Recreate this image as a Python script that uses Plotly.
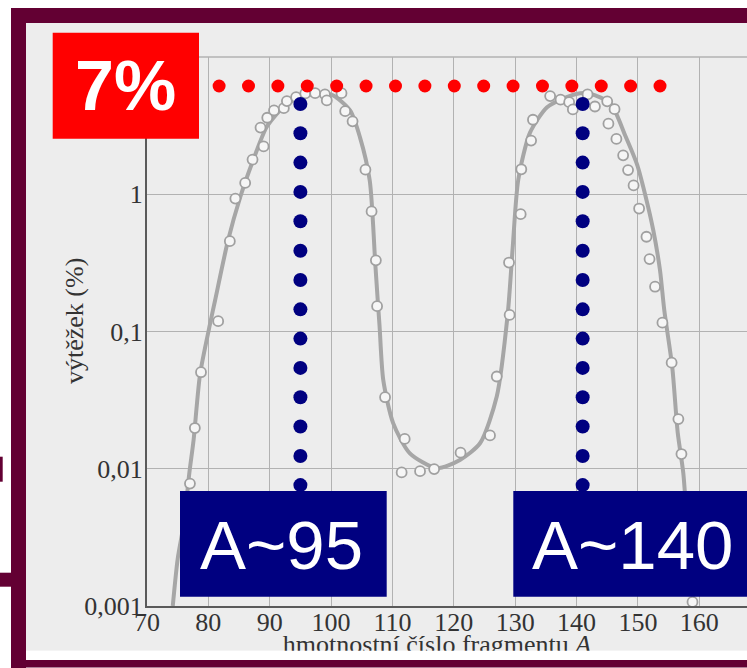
import plotly.graph_objects as go

# ---------------- data ----------------
# fitted yield curve (mass number A, yield %)
curve_A = [74.2, 75.0, 76.0, 76.9, 77.6, 78.65, 80.3, 81.1, 83.2, 85.2, 87.3, 89.5, 92.2,
           94.9, 97.6, 100.3, 103.1, 104.7, 106.3, 107.2, 107.6, 107.9, 108.5, 110.1, 112.8,
           117.2, 121.0, 124.3, 127.0, 128.8, 129.6, 130.5, 132.4, 135.2, 138.4, 140.6,
           142.2, 145.5, 147.9, 149.9, 151.2, 152.5, 153.6, 154.3, 155.6, 156.5, 157.4,
           158.2, 159.0]
curve_Y = [0.001, 0.0022, 0.0040, 0.0093, 0.0163, 0.049, 0.115, 0.169, 0.46, 0.955, 1.77,
           3.09, 4.31, 5.1, 5.4, 5.25, 4.08, 2.61, 1.26, 0.313, 0.17, 0.11, 0.0444, 0.0216,
           0.0130, 0.0101, 0.0116, 0.0154, 0.0336, 0.136, 0.41, 1.27, 2.8, 4.3, 5.1, 5.45,
           5.4, 4.62, 2.70, 1.63, 0.988, 0.549, 0.2805, 0.1434, 0.0551, 0.0182, 0.0093,
           0.00303, 0.00111]

# measured points (open circles)
pts_A = [77.0, 77.8, 78.8, 81.6, 83.5, 84.4, 86.0, 87.2, 88.5, 89.0, 89.6, 90.7, 92.3, 92.8,
         94.3, 95.8, 97.4, 99.0, 99.3, 101.7, 102.3, 103.5, 105.6, 106.6, 107.3, 107.5,
         108.8, 111.5, 112.0, 114.5, 116.8, 121.1, 125.9, 127.0, 129.1, 129.0, 130.9, 131.0,
         132.6, 132.9, 135.7, 137.4, 138.8, 139.4, 141.8, 143.0, 145.0, 145.2, 146.2, 146.5,
         147.6, 148.4, 149.3, 150.2, 151.4, 151.9, 152.8, 154.0, 155.5, 156.6, 157.1, 158.9]
pts_Y = [0.0078, 0.0198, 0.0505, 0.119, 0.455, 0.93, 1.21, 1.79, 3.06, 2.23, 3.61, 4.08, 4.24,
         4.77, 5.1, 5.43, 5.45, 5.34, 4.83, 5.45, 4.03, 3.4, 1.51, 0.75, 0.33, 0.153,
         0.0332, 0.0094, 0.0165, 0.0096, 0.00995, 0.0131, 0.0175, 0.047, 0.132, 0.318, 0.716,
         1.52, 2.46, 3.49, 5.19, 4.89, 4.69, 4.15, 5.34, 4.36, 4.75, 3.27, 4.17, 2.53,
         1.92, 1.5, 1.16, 0.787, 0.49, 0.337, 0.212, 0.116, 0.0593, 0.023, 0.0128, 0.00107]

# red dotted reference line at the peak yield
ref_A = [81.75, 86.54, 91.33, 96.12, 100.91, 105.70, 110.50, 115.29, 120.08, 124.87,
         129.66, 134.45, 139.24, 144.03, 148.82, 153.61]
ref_Y = [6.15] * len(ref_A)

# blue dotted markers of the two peaks
peak_light_A = 95
peak_heavy_A = 141
peak_Y = [4.54, 2.78, 1.70, 1.04, 0.635, 0.388, 0.237, 0.145, 0.0888, 0.0543, 0.0332,
          0.0203, 0.0124, 0.0076]

x_ticks = [70, 80, 90, 100, 110, 120, 130, 140, 150, 160]
x_ticktext = [str(v) for v in x_ticks]
y_ticks = [0.001, 0.01, 0.1, 1]
y_ticktext = ["0,001", "0,01", "0,1", "1"]

label_red = "7%"
label_light = "A~95"
label_heavy = "A~140"
x_title = "hmotnostní číslo fragmentu <i>A</i>"
y_title = "výtěžek (%)"

# ---------------- layout geometry (pixels) ----------------
FW, FH = 747, 668
PL, PR, PT, PB = 147, 747, 57, 606          # plot area edges
X0, X1 = 70, 70 + (PR - PL) / 6.136
Y0, Y1 = -3, 1


def xp(px):
    return px / FW


def yp(py):
    return 1 - py / FH


PAPER = "#ededed"
MAROON = "#630033"
NAVY = "#000080"
GRID = "#b2b2b2"
CURVE = "#a6a6a6"
SERIF = "Liberation Serif"
SANS = "Liberation Sans"
TXT = "#333333"

fig = go.Figure()

fig.add_trace(go.Scatter(x=curve_A, y=curve_Y, mode="lines",
                         line=dict(color=CURVE, width=4, shape="spline", smoothing=0.7),
                         hoverinfo="skip", showlegend=False))
fig.add_trace(go.Scatter(x=pts_A, y=pts_Y, mode="markers",
                         marker=dict(size=10, color="#f6f6f6", line=dict(color="#a0a0a0", width=1.8)),
                         showlegend=False))
fig.add_trace(go.Scatter(x=ref_A, y=ref_Y, mode="markers",
                         marker=dict(size=13, color="#ff0000"), showlegend=False))
fig.add_trace(go.Scatter(x=[peak_light_A] * len(peak_Y), y=peak_Y, mode="markers",
                         marker=dict(size=14, color=NAVY), showlegend=False))
fig.add_trace(go.Scatter(x=[peak_heavy_A] * len(peak_Y), y=peak_Y, mode="markers",
                         marker=dict(size=14, color=NAVY), showlegend=False))
# x-axis title on a hidden full-page pixel axis so the page edge can cut it
fig.add_trace(go.Scatter(x=[437], y=[646], xaxis="x2", yaxis="y2", mode="text",
                         text=[x_title], textposition="middle center",
                         textfont=dict(family=SERIF, size=26, color=TXT),
                         hoverinfo="skip", showlegend=False))


def rect(x0, y0, x1, y1, color, layer="below"):
    return dict(type="rect", xref="paper", yref="paper", x0=xp(x0), x1=xp(x1),
                y0=yp(y1), y1=yp(y0), fillcolor=color, line=dict(width=0), layer=layer)


shapes = [
    rect(26, 23, 760, 650.7, PAPER),
    dict(type="line", xref="paper", yref="paper", x0=xp(PL), x1=xp(760), y0=yp(PT), y1=yp(PT),
         line=dict(color=GRID, width=1.3), layer="below"),
    rect(11, 8, 760, 23, MAROON),
    rect(11, 8, 26, 670, MAROON),
    rect(0, 456.7, 2.7, 481.7, MAROON),
    rect(0, 572.7, 12, 586.7, MAROON),
    rect(52.7, 32.7, 199, 138.7, "#ff0000", "above"),
    rect(180, 491, 386.7, 596.7, NAVY, "above"),
    rect(513.3, 491, 760, 596.7, NAVY, "above"),
    rect(26, 650.7, 760, 660, "#ffffff", "above"),
    rect(11, 660, 760, 667.5, MAROON, "above"),
]

annotations = [
    dict(text=label_red, x=xp(125.8), y=yp(86), xref="paper", yref="paper",
         showarrow=False, xanchor="center", yanchor="middle",
         font=dict(family=SANS, size=70, color="white", weight="bold")),
    dict(text=label_light, x=xp(281.3), y=yp(545), xref="paper", yref="paper",
         showarrow=False, xanchor="center", yanchor="middle",
         font=dict(family=SANS, size=69, color="white")),
    dict(text=label_heavy, x=xp(632.5), y=yp(545), xref="paper", yref="paper",
         showarrow=False, xanchor="center", yanchor="middle",
         font=dict(family=SANS, size=69, color="white")),
    dict(text=y_title, x=xp(74), y=yp(321), xref="paper", yref="paper", textangle=-90,
         showarrow=False, xanchor="center", yanchor="middle",
         font=dict(family=SERIF, size=26, color=TXT)),
]

hidden = dict(domain=[0, 1], visible=False, showticklabels=False, showgrid=False,
              zeroline=False, showline=False, automargin=False, fixedrange=True)

fig.update_layout(
    width=FW, height=FH,
    margin=dict(l=0, r=0, t=0, b=0, pad=0, autoexpand=False),
    paper_bgcolor="white", plot_bgcolor="rgba(0,0,0,0)",
    shapes=shapes, annotations=annotations,
    showlegend=False,
    xaxis=dict(domain=[PL / FW, PR / FW], range=[X0, X1], tickvals=x_ticks, ticktext=x_ticktext,
               showgrid=True, gridcolor=GRID, gridwidth=1.3, zeroline=False, automargin=False,
               showline=True, linecolor="#5a5a5a", linewidth=2, ticks="", anchor="y",
               ticklabelstandoff=-8,
               tickfont=dict(family=SERIF, size=26, color=TXT)),
    yaxis=dict(domain=[1 - PB / FH, 1 - PT / FH], type="log", range=[Y0, Y1],
               tickvals=y_ticks, ticktext=y_ticktext, anchor="x", automargin=False,
               showgrid=True, gridcolor=GRID, gridwidth=1.3, zeroline=False,
               showline=True, linecolor="#5a5a5a", linewidth=2, ticks="",
               ticklabelstandoff=-3,
               tickfont=dict(family=SERIF, size=26, color=TXT)),
    xaxis2=dict(range=[0, FW], anchor="y2", **hidden),
    yaxis2=dict(range=[FH, 0], anchor="x2", **hidden),
)

fig.write_html("out.html")
